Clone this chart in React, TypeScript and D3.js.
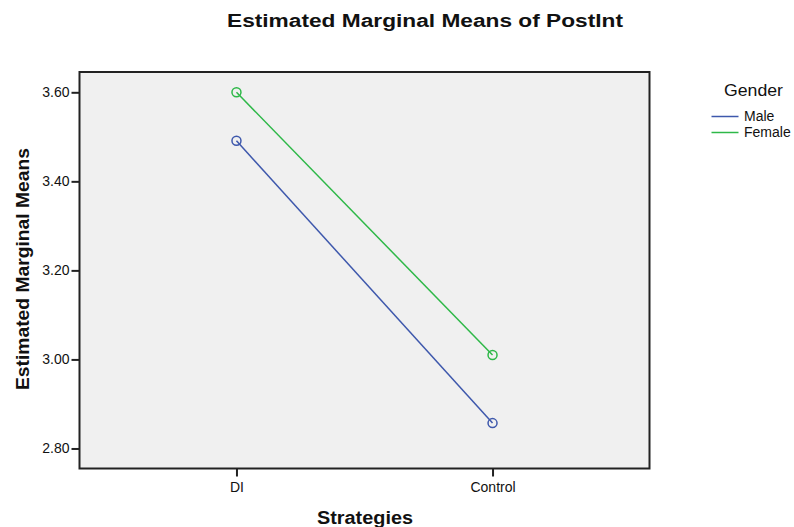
import { useRef, useEffect } from 'react';
import * as d3 from 'd3';

const strategies = ['DI', 'Control'];
const genders = ['Male', 'Female'];
const maleMeans = [3.491, 2.857];
const femaleMeans = [3.600, 3.010];
const yTicks = [2.8, 3.0, 3.2, 3.4, 3.6];
const genderColors = ['#3e58ac', '#2eb848'];

export default function App() {
  const svgRef = useRef<SVGSVGElement>(null);

  useEffect(() => {
    if (!svgRef.current) return;
    const svg = d3.select(svgRef.current);
    svg.selectAll('*').remove();

    const width = 794;
    const height = 527;
    const plot = { left: 79.5, right: 649.5, top: 72, bottom: 468.5 };
    const font = 'Liberation Sans, Arial, sans-serif';

    svg.attr('viewBox', `0 0 ${width} ${height}`);
    svg.append('rect').attr('width', width).attr('height', height).attr('fill', '#fff');

    const xScale = d3.scalePoint<string>()
      .domain(strategies)
      .range([plot.left, plot.right])
      .padding(0.613);

    const yScale = d3.scaleLinear()
      .domain([2.755, 3.6456])
      .range([plot.bottom, plot.top]);

    // Plot background
    svg.append('rect')
      .attr('x', plot.left).attr('y', plot.top)
      .attr('width', plot.right - plot.left).attr('height', plot.bottom - plot.top)
      .attr('fill', '#f0f0f0');

    // Axes
    svg.append('g')
      .attr('transform', `translate(${plot.left},0)`)
      .call(d3.axisLeft(yScale).tickValues(yTicks).tickFormat(d3.format('.2f')).tickSize(8).tickPadding(2))
      .call((g) => {
        g.select('.domain').remove();
        g.selectAll('line').attr('stroke', '#222').attr('stroke-width', 2);
        g.selectAll('text').attr('fill', '#111').style('font-family', font).style('font-size', '14px');
      });

    svg.append('g')
      .attr('transform', `translate(0,${plot.bottom})`)
      .call(d3.axisBottom(xScale).tickSize(8).tickPadding(6))
      .call((g) => {
        g.select('.domain').remove();
        g.selectAll('line').attr('stroke', '#222').attr('stroke-width', 2);
        g.selectAll('text').attr('fill', '#111').style('font-family', font).style('font-size', '14px');
      });

    // Frame
    svg.append('rect')
      .attr('x', plot.left).attr('y', plot.top)
      .attr('width', plot.right - plot.left).attr('height', plot.bottom - plot.top)
      .attr('fill', 'none')
      .attr('stroke', '#222').attr('stroke-width', 2);

    // Lines + markers
    const series = [maleMeans, femaleMeans];
    const line = d3.line<number>()
      .x((_, i) => xScale(strategies[i])!)
      .y((d) => yScale(d));

    series.forEach((values, si) => {
      svg.append('path')
        .datum(values)
        .attr('d', line)
        .attr('fill', 'none')
        .attr('stroke', genderColors[si])
        .attr('stroke-width', 1.5);

      svg.selectAll(null)
        .data(values)
        .enter()
        .append('circle')
        .attr('cx', (_, i) => xScale(strategies[i])!)
        .attr('cy', (d) => yScale(d))
        .attr('r', 4.5)
        .attr('fill', 'none')
        .attr('stroke', genderColors[si])
        .attr('stroke-width', 1.5);
    });

    // Titles (SPSS renders them a bit wider than Arial, so stretch to match)
    svg.append('text')
      .attr('x', 425).attr('y', 27)
      .attr('text-anchor', 'middle')
      .attr('textLength', 396).attr('lengthAdjust', 'spacingAndGlyphs')
      .style('font-family', font).style('font-size', '18px').style('font-weight', 'bold')
      .attr('fill', '#111')
      .text('Estimated Marginal Means of PostInt');

    svg.append('text')
      .attr('transform', `translate(29, 269) rotate(-90)`)
      .attr('text-anchor', 'middle')
      .attr('textLength', 242).attr('lengthAdjust', 'spacingAndGlyphs')
      .style('font-family', font).style('font-size', '18px').style('font-weight', 'bold')
      .attr('fill', '#111')
      .text('Estimated Marginal Means');

    svg.append('text')
      .attr('x', 365).attr('y', 524)
      .attr('text-anchor', 'middle')
      .attr('textLength', 96).attr('lengthAdjust', 'spacingAndGlyphs')
      .style('font-family', font).style('font-size', '18px').style('font-weight', 'bold')
      .attr('fill', '#111')
      .text('Strategies');

    // Legend
    const legend = svg.append('g');
    legend.append('text')
      .attr('x', 753.5).attr('y', 96)
      .attr('text-anchor', 'middle')
      .attr('textLength', 59).attr('lengthAdjust', 'spacingAndGlyphs')
      .style('font-family', font).style('font-size', '16px')
      .attr('fill', '#111')
      .text('Gender');

    genders.forEach((g, i) => {
      const y = 116.5 + i * 16;
      legend.append('line')
        .attr('x1', 711.5).attr('x2', 738.5).attr('y1', y).attr('y2', y)
        .attr('stroke', genderColors[i]).attr('stroke-width', 1.5);
      legend.append('text')
        .attr('x', 744).attr('y', y + 4.5)
        .style('font-family', font).style('font-size', '14px')
        .attr('fill', '#111')
        .text(g);
    });
  }, []);

  return (
    <svg
      ref={svgRef}
      width={794}
      height={527}
      style={{ position: 'absolute', left: 0, top: 0, display: 'block' }}
    />
  );
}
